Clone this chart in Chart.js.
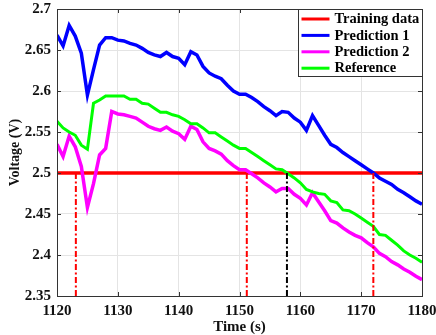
<!DOCTYPE html>
<html>
<head>
<meta charset="utf-8">
<script src="https://cdn.jsdelivr.net/npm/chart.js@4.4.0/dist/chart.umd.min.js"></script>
<style>
  html, body { margin: 0; padding: 0; background: #fff; }
  #wrap { width: 436px; height: 335px; }
</style>
</head>
<body>
<div id="wrap"><canvas id="myChart" width="436" height="335"></canvas></div>
<script>
// time axis (s)
const times = [1120, 1121, 1122, 1123, 1124, 1125, 1126, 1127, 1128, 1129,
  1130, 1131, 1132, 1133, 1134, 1135, 1136, 1137, 1138, 1139,
  1140, 1141, 1142, 1143, 1144, 1145, 1146, 1147, 1148, 1149,
  1150, 1151, 1152, 1153, 1154, 1155, 1156, 1157, 1158, 1159,
  1160, 1161, 1162, 1163, 1164, 1165, 1166, 1167, 1168, 1169,
  1170, 1171, 1172, 1173, 1174, 1175, 1176, 1177, 1178, 1179, 1180];

// Prediction 1 (blue)
const pred1 = [2.668, 2.655, 2.680, 2.667, 2.646, 2.595, 2.626, 2.656, 2.665, 2.665,
  2.662, 2.661, 2.658, 2.656, 2.652, 2.647, 2.644, 2.642, 2.647, 2.642,
  2.640, 2.632, 2.648, 2.644, 2.630, 2.622, 2.618, 2.615, 2.607, 2.600,
  2.596, 2.596, 2.592, 2.587, 2.581, 2.576, 2.570, 2.575, 2.574, 2.567,
  2.562, 2.552, 2.570, 2.558, 2.546, 2.535, 2.531, 2.525, 2.520, 2.515,
  2.510, 2.505, 2.500, 2.494, 2.490, 2.486, 2.480, 2.476, 2.471, 2.466, 2.462];

// Prediction 2 (magenta)
const pred2 = [2.535, 2.520, 2.545, 2.532, 2.508, 2.458, 2.487, 2.522, 2.530, 2.575,
  2.572, 2.571, 2.569, 2.567, 2.562, 2.557, 2.554, 2.552, 2.556, 2.551,
  2.548, 2.541, 2.557, 2.553, 2.538, 2.530, 2.527, 2.523, 2.515, 2.509,
  2.504, 2.504, 2.499, 2.494, 2.488, 2.483, 2.477, 2.481, 2.481, 2.474,
  2.469, 2.461, 2.476, 2.465, 2.454, 2.442, 2.439, 2.433, 2.428, 2.424,
  2.421, 2.415, 2.410, 2.402, 2.398, 2.392, 2.388, 2.383, 2.379, 2.374, 2.370];

// Reference (green)
const reference = [2.563, 2.555, 2.550, 2.546, 2.534, 2.529, 2.585, 2.589, 2.594, 2.594,
  2.594, 2.594, 2.590, 2.590, 2.585, 2.584, 2.579, 2.574, 2.574, 2.571,
  2.569, 2.565, 2.560, 2.560, 2.555, 2.549, 2.549, 2.544, 2.539, 2.534,
  2.530, 2.530, 2.525, 2.520, 2.515, 2.510, 2.505, 2.504, 2.499, 2.494,
  2.488, 2.480, 2.477, 2.475, 2.474, 2.466, 2.464, 2.455, 2.454, 2.450,
  2.445, 2.440, 2.435, 2.425, 2.424, 2.418, 2.412, 2.405, 2.400, 2.396, 2.391];

// Training data (flat line)
const trainT = [1120, 1180];
const trainV = [2.5, 2.5];

// threshold crossing times (dash-dot markers), the 3rd one is the reference
const crossT = [1123.1, 1151.2, 1157.8, 1172.0];
const crossV = [2.35, 2.5];

const xTicks = [1120, 1130, 1140, 1150, 1160, 1170, 1180];
const yTicks = [2.35, 2.4, 2.45, 2.5, 2.55, 2.6, 2.65, 2.7];

const pts = (xs, ys) => xs.map((x, i) => ({ x: x, y: ys[i] }));

const FONT = '"Liberation Serif", "Times New Roman", serif';

const datasets = [
  { label: 'Training data', data: pts(trainT, trainV), borderColor: '#ff0000', borderWidth: 3.5 },
  { label: 'Prediction 1', data: pts(times, pred1), borderColor: '#0000ff', borderWidth: 3.5 },
  { label: 'Prediction 2', data: pts(times, pred2), borderColor: '#ff00ff', borderWidth: 3.5 },
  { label: 'Reference', data: pts(times, reference), borderColor: '#00ff00', borderWidth: 3 }
];
crossT.forEach((t, i) => {
  datasets.push({
    label: '_cross' + i,
    data: [{ x: t, y: crossV[0] }, { x: t, y: crossV[1] }],
    borderColor: i === 2 ? '#000000' : '#ff0000',
    borderWidth: 2,
    borderDash: [6, 2.5, 2, 2.5]
  });
});
datasets.forEach((d, i) => { d.pointRadius = 0; d.tension = 0; d.fill = false; d.order = datasets.length - i; });

// box + inward ticks, and legend in upper-right corner
const boxPlugin = {
  id: 'boxPlugin',
  afterDatasetsDraw(chart) {
    const { ctx, chartArea: a, scales } = chart;
    ctx.save();
    ctx.strokeStyle = '#333';
    ctx.lineWidth = 1;
    ctx.beginPath();
    xTicks.forEach(v => {
      const px = Math.round(scales.x.getPixelForValue(v)) + 0.5;
      ctx.moveTo(px, a.bottom); ctx.lineTo(px, a.bottom - 4);
      ctx.moveTo(px, a.top); ctx.lineTo(px, a.top + 4);
    });
    yTicks.forEach(v => {
      const py = Math.round(scales.y.getPixelForValue(v)) + 0.5;
      ctx.moveTo(a.left, py); ctx.lineTo(a.left + 4, py);
      ctx.moveTo(a.right, py); ctx.lineTo(a.right - 4, py);
    });
    ctx.stroke();
    ctx.strokeRect(Math.round(a.left) + 0.5, Math.round(a.top) + 0.5,
      Math.round(a.right - a.left), Math.round(a.bottom - a.top));

    // legend
    const items = chart.data.datasets.filter(d => !d.label.startsWith('_'));
    const bw = 124, bh = 67;
    const bx = Math.round(a.right) - bw + 0.5, by = Math.round(a.top) + 0.5;
    ctx.fillStyle = '#fff';
    ctx.fillRect(bx, by, bw, bh);
    ctx.strokeRect(bx, by, bw, bh);
    ctx.font = 'bold 14.5px ' + FONT;
    ctx.textBaseline = 'middle';
    items.forEach((d, i) => {
      const y = by + 9.5 + i * 16.4;
      ctx.strokeStyle = d.borderColor;
      ctx.lineWidth = 3;
      ctx.beginPath();
      ctx.moveTo(bx + 3, y); ctx.lineTo(bx + 31, y);
      ctx.stroke();
      ctx.fillStyle = '#000';
      ctx.fillText(d.label, bx + 36, y + 0.5);
    });
    ctx.restore();
  }
};

const ctx = document.getElementById('myChart').getContext('2d');
const myChart = new Chart(ctx, {
  type: 'line',
  data: { datasets: datasets },
  options: {
    responsive: false,
    animation: false,
    devicePixelRatio: 1,
    layout: { padding: { top: 9, right: 14, left: 0, bottom: 0 } },
    scales: {
      x: {
        type: 'linear',
        min: 1120, max: 1180,
        afterBuildTicks: s => { s.ticks = xTicks.map(v => ({ value: v })); },
        afterFit: s => { s.height = 39; s.paddingLeft = 0; s.paddingRight = 0; },
        grid: { color: '#e4e4e4', drawTicks: false },
        border: { display: false },
        ticks: { color: '#111', padding: 6, maxRotation: 0, font: { family: FONT, size: 15, weight: 'bold' }, callback: v => String(v) },
        title: { display: true, text: 'Time (s)', color: '#111', padding: 0, font: { family: FONT, size: 15, weight: 'bold', lineHeight: 1 } }
      },
      y: {
        min: 2.35, max: 2.7,
        afterBuildTicks: s => { s.ticks = yTicks.map(v => ({ value: v })); },
        afterFit: s => { s.width = 57; s.paddingTop = 0; s.paddingBottom = 0; },
        grid: { color: '#e4e4e4', drawTicks: false },
        border: { display: false },
        ticks: { color: '#111', padding: 6, font: { family: FONT, size: 15, weight: 'bold' }, callback: v => String(v) },
        title: { display: true, text: 'Voltage (V)', color: '#111', padding: { top: 8, bottom: 0 }, font: { family: FONT, size: 14, weight: 'bold', lineHeight: 1 } }
      }
    },
    plugins: {
      legend: { display: false },
      tooltip: { enabled: false }
    }
  },
  plugins: [boxPlugin]
});
</script>
</body>
</html>
